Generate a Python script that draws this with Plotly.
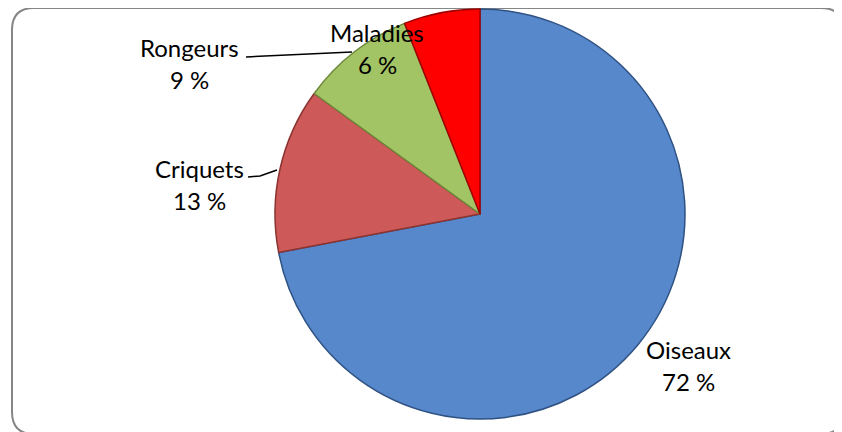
import plotly.graph_objects as go

# data
labels = ['Oiseaux', 'Criquets', 'Rongeurs', 'Maladies']
values = [72, 13, 9, 6]
colors = ['#5688CB', '#CD5A58', '#A3C465', '#FF0000']
edges = ['#2F5283', '#8A3331', '#6C8838', '#A00000']

W, H = 842, 432
OFF = 8  # page body margin

# label centres (screen pixels) for name line, and leader lines
label_pos = {
    'Oiseaux': (688, 349),
    'Criquets': (199, 168),
    'Rongeurs': (189, 47),
    'Maladies': (377, 33),
}
leaders = {
    'Criquets': [(248, 177), (260, 176), (277, 170)],
    'Rongeurs': [(246, 57), (352, 52)],
}


def px(x, y):
    return (x - OFF) / W, 1 - (y - OFF) / H


fig = go.Figure()

cx, cy, r = 480, 214, 205
x0, y0 = px(cx - r, cy + r)
x1, y1 = px(cx + r, cy - r)

fig.add_trace(
    go.Pie(
        labels=labels,
        values=values,
        sort=False,
        direction='clockwise',
        rotation=0,
        textinfo='none',
        hoverinfo='label+percent',
        marker=dict(colors=colors, line=dict(color=edges, width=1.5)),
        domain=dict(x=[max(0, x0), min(1, x1)], y=[max(0, y0), min(1, y1)]),
        showlegend=False,
    )
)

font = dict(family='Lato, Open Sans, sans-serif', size=24, color='#000000')
annotations = []
for lab, val in zip(labels, values):
    lx, ly = label_pos[lab]
    ax, ay = px(lx, ly)
    annotations.append(dict(x=ax, y=ay, xref='paper', yref='paper', text=lab,
                            showarrow=False, font=font, xanchor='center', yanchor='middle'))
    ax, ay = px(lx, ly + 32)
    annotations.append(dict(x=ax, y=ay, xref='paper', yref='paper', text=f'{val} %',
                            showarrow=False, font=font, xanchor='center', yanchor='middle'))

shapes = []
for lab, pts in leaders.items():
    path = ''
    for i, (x, y) in enumerate(pts):
        u, v = px(x, y)
        path += ('M' if i == 0 else 'L') + f' {u} {v} '
    shapes.append(dict(type='path', xref='paper', yref='paper', path=path,
                       line=dict(color='#000000', width=1.5)))

# rounded chart border
bx0, by0, bx1, by1, rad = 12, 8, 843, 434, 22
def P(x, y):
    u, v = px(x, y)
    return f'{u} {v}'
border = (f'M {P(bx0 + rad, by0)} L {P(bx1 - rad, by0)} Q {P(bx1, by0)} {P(bx1, by0 + rad)} '
          f'L {P(bx1, by1 - rad)} Q {P(bx1, by1)} {P(bx1 - rad, by1)} '
          f'L {P(bx0 + rad, by1)} Q {P(bx0, by1)} {P(bx0, by1 - rad)} '
          f'L {P(bx0, by0 + rad)} Q {P(bx0, by0)} {P(bx0 + rad, by0)} Z')
shapes.append(dict(type='path', xref='paper', yref='paper', path=border,
                   line=dict(color='#868686', width=2), layer='below'))

fig.update_layout(
    width=W,
    height=H,
    margin=dict(l=0, r=0, t=0, b=0),
    paper_bgcolor='white',
    plot_bgcolor='white',
    annotations=annotations,
    shapes=shapes,
)

fig.write_html('out.html')
